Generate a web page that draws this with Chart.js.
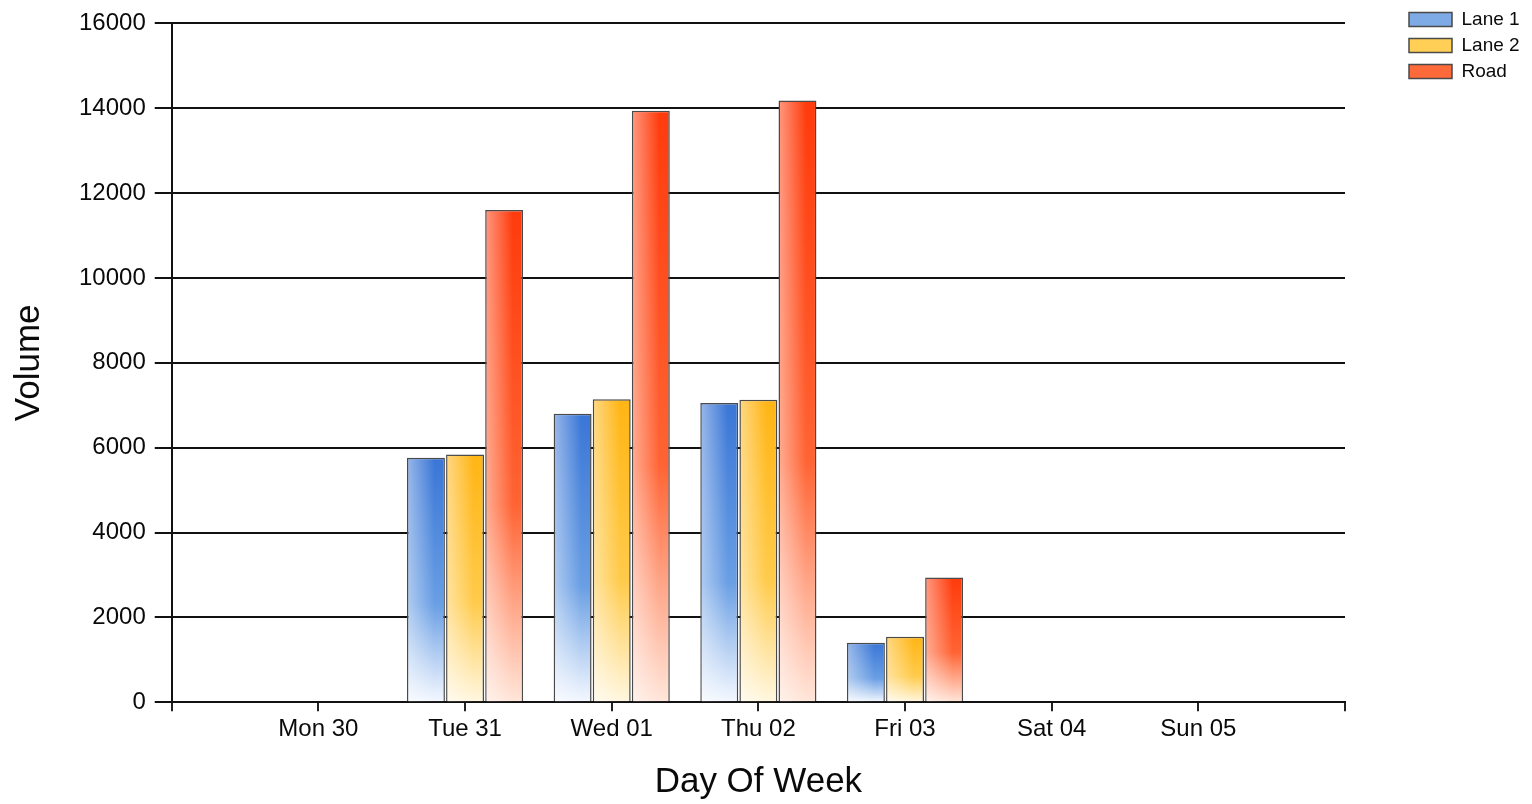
<!DOCTYPE html>
<html>
<head>
<meta charset="utf-8">
<title>Volume by Day Of Week</title>
<script src="https://cdn.jsdelivr.net/npm/chart.js@4.4.1/dist/chart.umd.min.js"></script>
<style>
  html, body { margin: 0; padding: 0; background: #fff; }
  #wrap { width: 1532px; height: 804px; }
</style>
</head>
<body>
<div id="wrap"><canvas id="volumeChart"></canvas></div>
<script>
// empty slots at both ends so the axis runs half a day past Mon and Sun
const days = ["", "Mon 30", "Tue 31", "Wed 01", "Thu 02", "Fri 03", "Sat 04", "Sun 05", ""];
const lane1 = [null, 0, 5760, 6800, 7050, 1400, 0, 0, null];
const lane2 = [null, 0, 5840, 7140, 7130, 1540, 0, 0, null];
const road = [null, 0, 11600, 13940, 14180, 2940, 0, 0, null];
const yTicks = [0, 2000, 4000, 6000, 8000, 10000, 12000, 14000, 16000];

const FONT = "'Liberation Sans', Arial, Helvetica, sans-serif";
const INK = "#0a0a0a";

// vertical fade per bar: strong at the top, pale at the base
function barFill(top, mid, bottom) {
  return (c) => {
    if (c.type !== "data" || c.raw == null) return top;
    const ys = c.chart.scales.y;
    if (!ys || !c.chart.chartArea) return top;
    const y0 = ys.getPixelForValue(c.raw);
    const y1 = ys.getPixelForValue(0);
    if (!(y1 - y0 > 0)) return top;
    const g = c.chart.ctx.createLinearGradient(0, y0, 0, y1);
    g.addColorStop(0, top);
    g.addColorStop(0.6, mid);
    g.addColorStop(1, bottom);
    return g;
  };
}

// light sheen on the left side of each bar
const barSheen = {
  id: "barSheen",
  afterDatasetsDraw(chart) {
    const ctx = chart.ctx;
    chart.data.datasets.forEach((ds, i) => {
      const meta = chart.getDatasetMeta(i);
      meta.data.forEach((el) => {
        const p = el.getProps(["x", "y", "base", "width"], true);
        const h = p.base - p.y;
        if (!(h > 2)) return;
        const bw = 1.5;
        const left = p.x - p.width / 2 + bw;
        const w = p.width - bw * 2;
        const g = ctx.createLinearGradient(left, 0, left + w, 0);
        g.addColorStop(0, "rgba(255,255,255,0.45)");
        g.addColorStop(0.75, "rgba(255,255,255,0)");
        ctx.save();
        ctx.fillStyle = g;
        ctx.fillRect(left, p.y + bw, w, h - bw);
        ctx.restore();
      });
    });
  }
};

// push the legend off to the far right, leaving a gap after the plot
const LEGEND_W = 187;
const legendSpot = {
  id: "legendSpot",
  beforeUpdate(chart) {
    const lg = chart.legend;
    if (lg && !lg._spotPatched) {
      const fit = lg.fit;
      lg.fit = function () {
        fit.call(this);
        this.width = LEGEND_W;
      };
      lg._spotPatched = true;
    }
  },
  afterLayout(chart) {
    const lg = chart.legend;
    if (!lg) return;
    lg.left = chart.chartArea.right + 57;
    lg.top = 3;
  }
};

const legendFill = { "Lane 1": "#7eaae6", "Lane 2": "#ffd055", "Road": "#ff6a3a" };

const ctx = document.getElementById("volumeChart");
new Chart(ctx, {
  type: "bar",
  data: {
    labels: days,
    datasets: [
      {
        label: "Lane 1",
        data: lane1,
        backgroundColor: barFill("#3a76d6", "#6a9fe4", "#f4f8ff"),
        borderColor: "#4a4a4a",
        borderWidth: 1.5
      },
      {
        label: "Lane 2",
        data: lane2,
        backgroundColor: barFill("#ffb514", "#ffcb4c", "#fff7e0"),
        borderColor: "#4a4a4a",
        borderWidth: 1.5
      },
      {
        label: "Road",
        data: road,
        backgroundColor: barFill("#ff3b0c", "#ff6434", "#ffe6da"),
        borderColor: "#4a4a4a",
        borderWidth: 1.5
      }
    ]
  },
  options: {
    responsive: true,
    maintainAspectRatio: false,
    animation: false,
    categoryPercentage: 0.8,
    barPercentage: 0.97,
    layout: { padding: { top: 23, left: 8, right: 0, bottom: 1 } },
    plugins: {
      tooltip: { enabled: false },
      legend: {
        position: "right",
        align: "start",
        labels: {
          font: { family: FONT, size: 19 },
          color: INK,
          boxWidth: 43,
          boxHeight: 14,
          padding: 7,
          generateLabels(chart) {
            return chart.data.datasets.map((ds, i) => ({
              text: ds.label,
              fillStyle: legendFill[ds.label],
              strokeStyle: "#4a4a4a",
              lineWidth: 1.5,
              fontColor: INK,
              hidden: !chart.isDatasetVisible(i),
              datasetIndex: i
            }));
          }
        }
      }
    },
    scales: {
      x: {
        offset: false,
        grid: {
          offset: false,
          drawOnChartArea: false,
          drawTicks: true,
          tickLength: 9,
          color: "#222",
          lineWidth: 2
        },
        border: { display: true, color: "#111", width: 2 },
        ticks: {
          autoSkip: false,
          maxRotation: 0,
          padding: 4,
          color: INK,
          font: { family: FONT, size: 24 }
        },
        title: {
          display: true,
          text: "Day Of Week",
          color: INK,
          font: { family: FONT, size: 35 },
          padding: { top: 13, bottom: 0 }
        }
      },
      y: {
        min: 0,
        max: 16000,
        afterBuildTicks(scale) {
          scale.ticks = yTicks.map((v) => ({ value: v }));
        },
        grid: {
          color: "#111",
          lineWidth: 2,
          drawTicks: true,
          tickLength: 17
        },
        border: { display: true, color: "#111", width: 2 },
        ticks: {
          padding: 9,
          color: INK,
          font: { family: FONT, size: 24 },
          callback: (v) => String(v)
        },
        title: {
          display: true,
          text: "Volume",
          color: INK,
          font: { family: FONT, size: 35 },
          padding: { top: 0, bottom: 20 }
        }
      }
    }
  },
  plugins: [barSheen, legendSpot]
});
</script>
</body>
</html>
